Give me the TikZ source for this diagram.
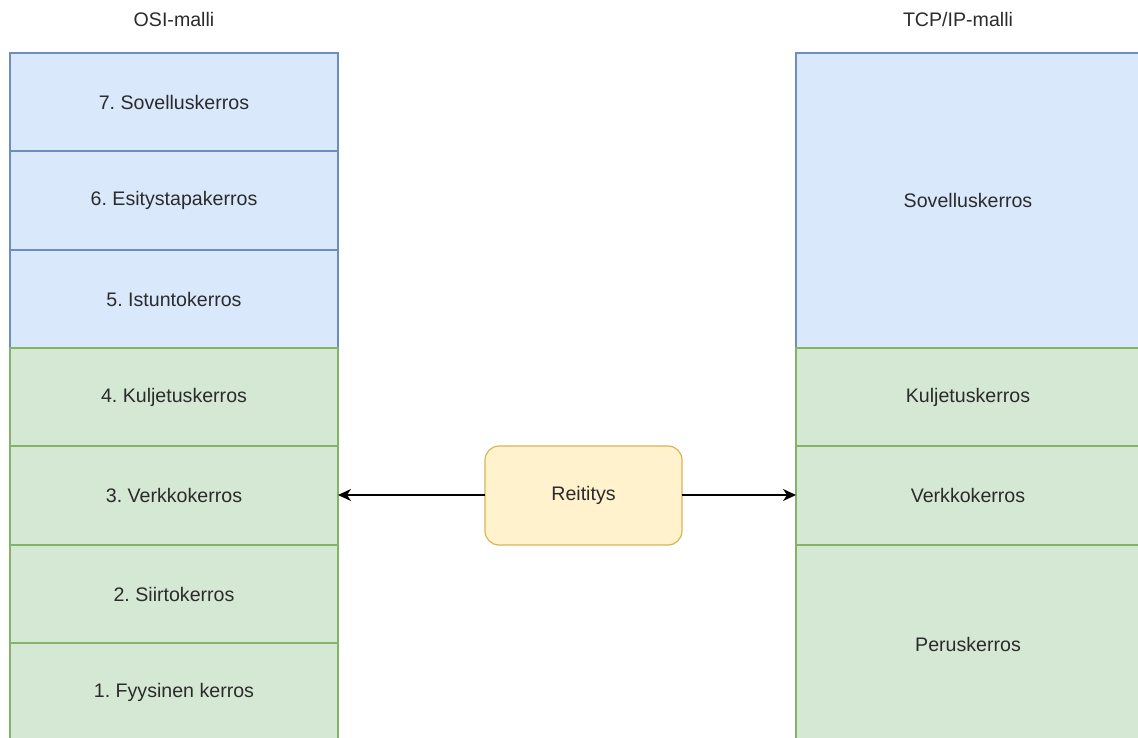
\documentclass[tikz,border=0pt]{standalone}
\usepackage{fontspec}
\setmainfont{Liberation Sans}
\usetikzlibrary{arrows.meta}
\definecolor{bluefill}{HTML}{DAE8FC}
\definecolor{bluedraw}{HTML}{6C8EBF}
\definecolor{greenfill}{HTML}{D5E8D4}
\definecolor{greendraw}{HTML}{82B366}
\definecolor{yellowfill}{HTML}{FFF2CC}
\definecolor{yellowdraw}{HTML}{D6B656}
\definecolor{txt}{HTML}{2B2B2B}
\frenchspacing
\begin{document}
\begin{tikzpicture}[x=1pt,y=-1pt,
  every node/.style={font=\fontsize{19.6}{23}\selectfont, text=txt},
  layerA/.style={draw=bluedraw, fill=bluefill, line width=1.2pt},
  layerB/.style={draw=greendraw, fill=greenfill, line width=1.2pt},
  router/.style={draw=yellowdraw, fill=yellowfill, line width=1.2pt, rounded corners=14pt},
  link/.style={line width=1.4pt, -{Stealth[length=13pt,width=12pt,inset=4pt]}}]
\useasboundingbox (0,0) rectangle (1138,738);
\clip (0,0) rectangle (1138,738);
% column titles
\node (osiT) at (174,19) {OSI-malli};
\node (tcpT) at (958,19) {TCP/IP-malli};
% OSI layers
\draw[layerA] (10,53) rectangle node (o7) {7. Sovelluskerros} (338,151);
\draw[layerA] (10,151) rectangle node (o6) {6. Esitystapakerros} (338,250);
\draw[layerA] (10,250) rectangle node (o5) {5. Istuntokerros} (338,348);
\draw[layerB] (10,348) rectangle node (o4) {4. Kuljetuskerros} (338,446);
\draw[layerB] (10,446) rectangle node (o3) {3. Verkkokerros} (338,545);
\draw[layerB] (10,545) rectangle node (o2) {2. Siirtokerros} (338,643);
\draw[layerB] (10,643) rectangle node (o1) {1. Fyysinen kerros} (338,741);
\coordinate (oR) at (338,495);
% TCP/IP layers
\draw[layerA] (796,53) rectangle node (t4) {Sovelluskerros} (1140,348);
\draw[layerB] (796,348) rectangle node (t3) {Kuljetuskerros} (1140,446);
\draw[layerB] (796,446) rectangle node (t2) {Verkkokerros} (1140,545);
\draw[layerB] (796,545) rectangle node (t1) {Peruskerros} (1140,743);
\coordinate (tL) at (796,495);
% routing
\draw[router] (485,446) rectangle node (r) {Reititys} (682,545);
\coordinate (rL) at (485,495);
\coordinate (rR) at (682,495);
\draw[link] (rL) -- (oR);
\draw[link] (rR) -- (tL);
\end{tikzpicture}
\end{document}
